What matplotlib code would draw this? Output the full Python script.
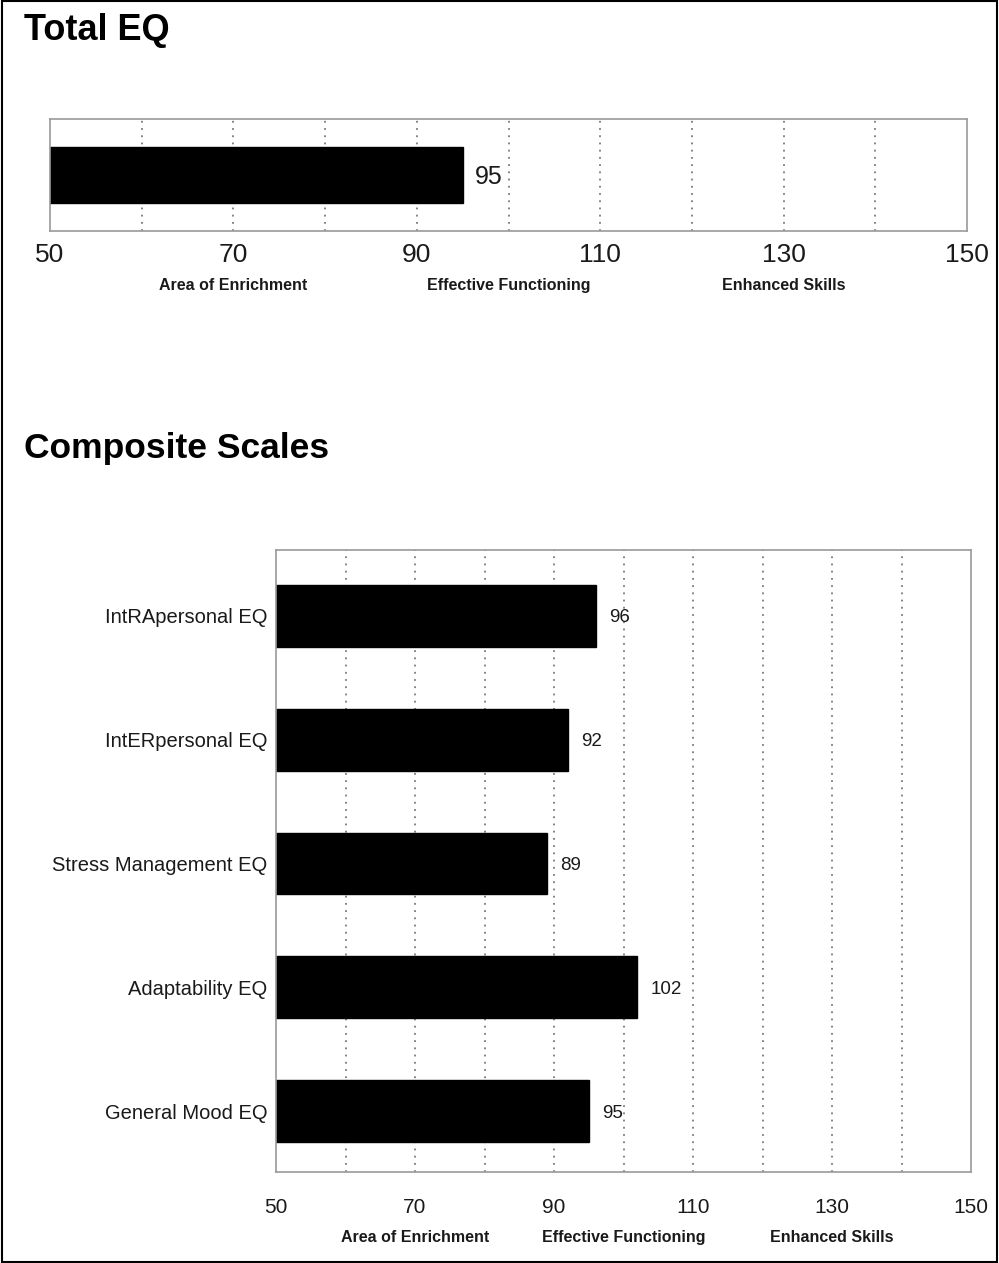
import matplotlib.pyplot as plt
from matplotlib.patches import Rectangle

plt.rcParams['font.family'] = ['Liberation Sans', 'DejaVu Sans']

# data
total_value = 95
composite_labels = ["IntRApersonal EQ", "IntERpersonal EQ", "Stress Management EQ",
                    "Adaptability EQ", "General Mood EQ"]
composite_values = [96, 92, 89, 102, 95]
tick_values = [50, 70, 90, 110, 130, 150]
grid_values = [60, 70, 80, 90, 100, 110, 120, 130, 140]
zone_labels = ["Area of Enrichment", "Effective Functioning", "Enhanced Skills"]
zone_centers = [70, 100, 130]

TXT = '#1a1a1a'
GRID = '#7a7a7a'
SPINE = '#9a9a9a'

fig = plt.figure(figsize=(9.99, 12.63), dpi=100)

# border round the page
fig.patches.append(Rectangle((0.002, 0.001), 0.996, 0.998, transform=fig.transFigure,
                             fill=False, edgecolor='black', linewidth=1.5))


def style_axes(ax, tick_size, pad):
    ax.set_xlim(50, 150)
    for g in grid_values:
        ax.axvline(g, color=GRID, linestyle=(0, (1, 3)), linewidth=1.3, zorder=0)
    for s in ax.spines.values():
        s.set_color(SPINE)
        s.set_linewidth(1.2)
    ax.set_xticks(tick_values)
    ax.set_xticklabels([str(t) for t in tick_values], fontsize=tick_size, color=TXT)
    ax.tick_params(axis='x', length=0, pad=pad)


# Total EQ
fig.text(24 / 999, 1 - 30 / 1263, "Total EQ", fontsize=26, fontweight='bold',
         va='center', ha='left', color='black')

ax1 = fig.add_axes([50 / 999, 1 - 231 / 1263, 917 / 999, 112 / 1263])
style_axes(ax1, 19, 9)
ax1.set_ylim(-0.5, 0.5)
ax1.set_yticks([])
ax1.barh(0, total_value - 50, left=50, height=0.5, color='black', edgecolor='black', zorder=2)
ax1.annotate(str(total_value), xy=(total_value, 0), xytext=(12, 0), textcoords='offset pixels',
             fontsize=18, va='center_baseline', ha='left', color=TXT)
for lab, c in zip(zone_labels, zone_centers):
    ax1.annotate(lab, xy=(c, 0), xycoords=('data', 'axes fraction'), xytext=(0, -59),
                 textcoords='offset pixels', ha='center', va='baseline', fontsize=11.5,
                 fontweight='bold', color=TXT)

# Composite Scales
fig.text(24 / 999, 1 - 449 / 1263, "Composite Scales", fontsize=25.5, fontweight='bold',
         va='center', ha='left', color='black')

ax2 = fig.add_axes([276 / 999, 1 - 1172 / 1263, 695 / 999, 622 / 1263])
style_axes(ax2, 15, 19)
ypos = list(range(len(composite_labels)))
ax2.set_ylim(len(composite_labels) - 0.51, -0.53)
ax2.barh(ypos, [v - 50 for v in composite_values], left=50, height=0.5,
         color='black', edgecolor='black', zorder=2)
ax2.set_yticks(ypos)
ax2.set_yticklabels(composite_labels, fontsize=14.5, color=TXT, va='center_baseline')
ax2.tick_params(axis='y', length=0, pad=6)
for y, v in zip(ypos, composite_values):
    ax2.annotate(str(v), xy=(v, y), xytext=(13, 0), textcoords='offset pixels',
                 fontsize=13.5, va='center_baseline', ha='left', color=TXT)
for lab, c in zip(zone_labels, zone_centers):
    ax2.annotate(lab, xy=(c, 0), xycoords=('data', 'axes fraction'), xytext=(0, -70),
                 textcoords='offset pixels', ha='center', va='baseline', fontsize=11.5,
                 fontweight='bold', color=TXT)

fig.savefig('out.png', dpi=100)
